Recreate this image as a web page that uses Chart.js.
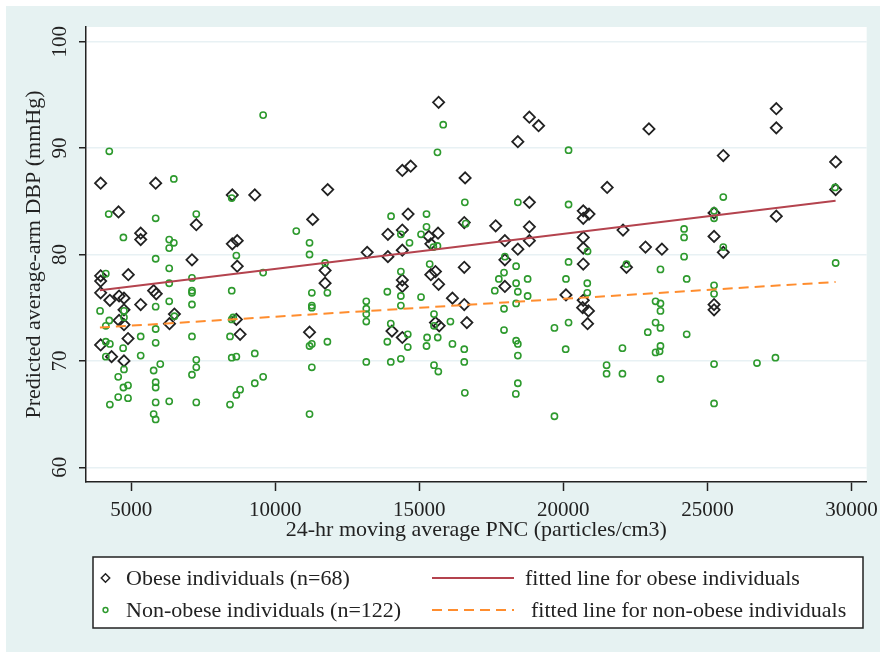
<!DOCTYPE html>
<html>
<head>
<meta charset="utf-8">
<script src="https://cdn.jsdelivr.net/npm/chart.js@4.4.1/dist/chart.umd.min.js"></script>
<style>
  html, body { margin: 0; padding: 0; background: #fff; }
  #wrap { position: relative; width: 885px; height: 658px; }
</style>
</head>
<body>
<div id="wrap"><canvas id="chart" width="885" height="658"></canvas></div>
<script>
// obese individuals (diamonds)
const obeseX = [3940, 5850, 8510, 9290, 4560, 7260, 5330, 5330, 8510, 8680,
  7110, 8680, 3940, 4900, 3940, 3940, 4260, 4580, 4750, 5780,
  5870, 5330, 4750, 4580, 4750, 6500, 6330, 8650, 8780, 4890,
  3940, 4320, 4750, 15670, 14410, 14700, 11820, 16590, 11300, 14610,
  13910, 14410, 15650, 15330, 15400, 14410, 13190, 13910, 16560, 16560,
  11730, 15560, 15400, 14410, 11730, 14410, 15670, 16150, 16560, 11190,
  14050, 14410, 15560, 15690, 18820, 19140, 18420, 22970, 21520, 18820,
  20690, 20890, 20690, 17650, 18820, 17970, 18820, 20690, 22070, 18420,
  20690, 22850, 17970, 20690, 22190, 17970, 16650, 20090, 20690, 20670,
  20870, 20840, 27390, 27390, 25550, 29450, 29450, 25230, 27390, 23420,
  25230, 25550, 25230, 25230];
const obeseY = [86.7, 86.7, 85.6, 85.6, 84.0, 82.8, 82.0, 81.4, 81.0, 81.3,
  79.5, 78.9, 78.0, 78.1, 77.5, 76.4, 75.7, 76.1, 75.9, 76.6,
  76.3, 75.3, 74.8, 73.8, 73.4, 74.4, 73.5, 73.9, 72.5, 72.1,
  71.5, 70.4, 70.0, 94.3, 87.9, 88.3, 86.1, 87.2, 83.3, 83.8,
  81.9, 82.3, 82.0, 81.7, 81.0, 80.4, 80.2, 79.8, 83.0, 78.8,
  78.5, 78.4, 78.1, 77.6, 77.3, 77.0, 77.2, 75.9, 75.3, 72.7,
  72.8, 72.2, 73.6, 73.3, 92.9, 92.1, 90.6, 91.8, 86.3, 84.9,
  84.1, 83.8, 83.4, 82.7, 82.6, 81.3, 81.3, 81.6, 82.3, 80.5,
  80.6, 80.7, 79.5, 79.1, 78.8, 77.0, 73.6, 76.2, 75.7, 75.0,
  74.7, 73.5, 93.7, 91.9, 89.3, 88.7, 86.1, 83.9, 83.6, 80.5,
  81.7, 80.2, 75.3, 74.8];

// non-obese individuals (circles)
const nonObeseX = [9580, 4240, 6480, 8490, 4220, 5850, 7260, 4730, 6320, 6480,
  6320, 8650, 5850, 6320, 4120, 7110, 9580, 6320, 7110, 7110,
  8490, 6320, 7110, 3920, 5850, 4750, 4750, 6500, 4240, 4120,
  8490, 8540, 5850, 5330, 7110, 8430, 4120, 4260, 4720, 5850,
  5330, 4120, 8490, 8650, 9290, 7260, 7260, 6010, 5780, 4750,
  7110, 9580, 4550, 9290, 4730, 4890, 5850, 5850, 8780, 8650,
  4550, 4890, 6320, 5850, 7260, 4260, 8430, 5780, 5850, 15830,
  15630, 16580, 16610, 10730, 11190, 11190, 14020, 15250, 15250, 15060,
  14360, 14660, 15490, 15630, 11730, 15360, 14360, 11270, 11810, 11270,
  11270, 13160, 13160, 13160, 13160, 13890, 14360, 14360, 15060, 15510,
  15510, 16080, 14010, 14600, 13890, 15270, 15640, 11270, 11190, 11810,
  14600, 15250, 16150, 16560, 13160, 14010, 14360, 15510, 15660, 16560,
  11270, 16580, 11190, 20180, 18420, 20180, 20840, 17970, 18360, 20180,
  22190, 17940, 17760, 18760, 20090, 18360, 20830, 17620, 18420, 18760,
  20830, 18360, 17940, 17940, 19690, 20180, 22930, 23200, 23200, 23200,
  18360, 18420, 18420, 20080, 22050, 21500, 21500, 22050, 18420, 18350,
  19690, 25550, 25230, 25230, 24190, 24190, 24190, 23370, 24280, 25550,
  29430, 29450, 25230, 25230, 23370, 23370, 23370, 24280, 23370, 23340,
  25230, 26720, 27360, 23370, 25230];
const nonObeseY = [93.1, 89.7, 87.1, 85.3, 83.8, 83.4, 83.8, 81.6, 81.4, 81.1,
  80.6, 79.9, 79.6, 78.7, 78.2, 77.8, 78.3, 77.3, 76.6, 76.4,
  76.6, 75.6, 75.3, 74.7, 75.1, 74.7, 74.1, 74.2, 73.8, 73.3,
  73.9, 74.1, 73.0, 72.3, 72.3, 72.3, 71.8, 71.6, 71.2, 71.7,
  70.5, 70.4, 70.3, 70.4, 70.7, 70.1, 69.4, 69.7, 69.1, 69.2,
  68.7, 68.5, 68.5, 67.9, 67.5, 67.7, 68.0, 67.5, 67.3, 66.8,
  66.6, 66.5, 66.2, 66.1, 66.1, 65.9, 65.9, 65.0, 64.5, 92.2,
  89.6, 84.9, 82.9, 82.2, 81.1, 80.0, 83.6, 83.8, 82.6, 81.9,
  81.9, 81.1, 80.7, 80.8, 79.2, 79.1, 78.4, 76.4, 76.4, 75.2,
  75.0, 75.6, 74.9, 74.4, 73.7, 76.5, 76.1, 75.2, 76.0, 74.4,
  73.3, 73.7, 73.5, 72.5, 71.8, 72.2, 72.2, 71.6, 71.4, 71.8,
  71.3, 71.4, 71.6, 71.1, 69.9, 69.9, 70.2, 69.6, 69.0, 69.9,
  69.4, 67.0, 65.0, 89.8, 84.9, 84.7, 80.3, 79.8, 78.9, 79.3,
  79.1, 78.3, 77.7, 77.7, 77.7, 77.3, 77.3, 76.6, 76.5, 76.1,
  76.4, 75.4, 74.9, 72.9, 73.1, 73.6, 72.7, 75.6, 73.6, 70.8,
  71.9, 71.6, 70.5, 71.1, 71.2, 69.6, 68.8, 68.8, 67.9, 66.9,
  64.8, 85.4, 84.1, 83.4, 82.4, 81.6, 79.8, 78.6, 77.7, 80.7,
  86.3, 79.2, 77.1, 76.3, 75.4, 74.7, 73.1, 72.5, 71.4, 70.9,
  69.7, 69.8, 70.3, 68.3, 66.0];

// fitted lines (end points)
const fitX = [3914, 29448];
const obeseFitY = [76.65, 85.05];
const nonObeseFitY = [73.13, 77.42];

const xTicks = [5000, 10000, 15000, 20000, 25000, 30000];
const yTicks = [60, 70, 80, 90, 100];

const seriesLabels = ['Obese individuals (n=68)', 'Non-obese individuals (n=122)',
  'fitted line for obese individuals', 'fitted line for non-obese individuals'];

const FONT = "'Liberation Serif', 'Times New Roman', serif";
const DARK = '#222222';
const GREEN = '#2e9a2e';
const RED = '#b4434e';
const ORANGE = '#ff8d2e';

const toPoints = (xs, ys) => xs.map((x, i) => ({x: x, y: ys[i]}));

// page background + white plot region
const backdrop = {
  id: 'backdrop',
  beforeDraw(chart) {
    const {ctx, chartArea} = chart;
    ctx.save();
    ctx.fillStyle = '#ffffff';
    ctx.fillRect(0, 0, chart.width, chart.height);
    ctx.fillStyle = '#e6f2f2';
    ctx.fillRect(6, 6, 874, 646);
    ctx.fillStyle = '#ffffff';
    ctx.fillRect(chartArea.left, chartArea.top, chartArea.right - chartArea.left, chartArea.bottom - chartArea.top);
    ctx.restore();
  }
};

// boxed two-column legend like the stata one
const boxLegend = {
  id: 'boxLegend',
  afterDraw(chart) {
    const ctx = chart.ctx;
    const ds = chart.data.datasets;
    ctx.save();
    ctx.fillStyle = '#ffffff';
    ctx.fillRect(93, 557, 770, 71);
    ctx.strokeStyle = DARK;
    ctx.lineWidth = 1.5;
    ctx.strokeRect(93, 557, 770, 71);

    ctx.font = '22px ' + FONT;
    ctx.textBaseline = 'middle';

    // markers
    ctx.fillStyle = 'rgba(0,0,0,0)';
    ctx.strokeStyle = DARK;
    Chart.helpers.drawPoint(ctx, {pointStyle: 'rectRot', radius: 4.2, borderWidth: 1.5}, 105.5, 578);
    ctx.strokeStyle = GREEN;
    Chart.helpers.drawPoint(ctx, {pointStyle: 'circle', radius: 2.4, borderWidth: 1.5}, 105.5, 610);

    // line samples
    ctx.lineWidth = 2;
    ctx.strokeStyle = RED;
    ctx.beginPath(); ctx.moveTo(432, 578); ctx.lineTo(514, 578); ctx.stroke();
    ctx.strokeStyle = ORANGE;
    ctx.setLineDash(ds[3].borderDash);
    ctx.beginPath(); ctx.moveTo(432, 610); ctx.lineTo(514, 610); ctx.stroke();
    ctx.setLineDash([]);

    ctx.fillStyle = DARK;
    ctx.fillText(ds[0].label, 126, 579);
    ctx.fillText(ds[1].label, 126, 611);
    ctx.fillText(ds[2].label, 525, 579);
    ctx.fillText(ds[3].label, 531, 611);
    ctx.restore();
  }
};

new Chart(document.getElementById('chart').getContext('2d'), {
  type: 'scatter',
  data: {
    datasets: [
      {
        label: seriesLabels[0],
        data: toPoints(obeseX, obeseY),
        pointStyle: 'rectRot',
        radius: 5.6,
        borderColor: DARK,
        backgroundColor: 'rgba(0,0,0,0)',
        borderWidth: 1.8,
        order: 4
      },
      {
        label: seriesLabels[1],
        data: toPoints(nonObeseX, nonObeseY),
        pointStyle: 'circle',
        radius: 3.1,
        borderColor: GREEN,
        backgroundColor: 'rgba(0,0,0,0)',
        borderWidth: 1.6,
        order: 3
      },
      {
        type: 'line',
        label: seriesLabels[2],
        data: toPoints(fitX, obeseFitY),
        borderColor: RED,
        borderWidth: 2,
        pointRadius: 0,
        fill: false,
        order: 2
      },
      {
        type: 'line',
        label: seriesLabels[3],
        data: toPoints(fitX, nonObeseFitY),
        borderColor: ORANGE,
        borderWidth: 2,
        borderDash: [10, 6],
        pointRadius: 0,
        fill: false,
        order: 1
      }
    ]
  },
  options: {
    responsive: false,
    animation: false,
    devicePixelRatio: 1,
    layout: {padding: {top: 27, right: 13, bottom: 0, left: 0}},
    plugins: {
      legend: {display: false},
      tooltip: {enabled: false}
    },
    scales: {
      x: {
        type: 'linear',
        min: 3432,
        max: 30527,
        afterFit: (scale) => { scale.height = 176; },
        afterBuildTicks: (scale) => { scale.ticks = xTicks.map((v) => ({value: v})); },
        grid: {drawOnChartArea: false, tickLength: 9, tickColor: DARK, tickWidth: 1.5},
        border: {display: true, color: DARK, width: 1.5},
        ticks: {
          color: DARK,
          padding: 7,
          maxRotation: 0,
          font: {family: FONT, size: 21},
          callback: (v) => String(v)
        },
        title: {
          display: true,
          text: '24-hr moving average PNC (particles/cm3)',
          color: DARK,
          font: {family: FONT, size: 22},
          padding: {top: 0, bottom: 115}
        }
      },
      y: {
        type: 'linear',
        min: 58.62,
        max: 101.38,
        afterFit: (scale) => { scale.width = 86; },
        afterBuildTicks: (scale) => { scale.ticks = yTicks.map((v) => ({value: v})); },
        grid: {color: '#e8f1f4', lineWidth: 1.5, tickLength: 7, tickColor: DARK, tickWidth: 1.5},
        border: {display: true, color: DARK, width: 1.5},
        ticks: {
          color: DARK,
          padding: 3,
          minRotation: 90,
          maxRotation: 90,
          crossAlign: 'center',
          font: {family: FONT, size: 21},
          callback: (v) => String(v)
        },
        title: {
          display: true,
          text: 'Predicted average-arm DBP (mmHg)',
          color: DARK,
          font: {family: FONT, size: 22},
          padding: {top: 21, bottom: 0}
        }
      }
    }
  },
  plugins: [backdrop, boxLegend]
});
</script>
</body>
</html>
